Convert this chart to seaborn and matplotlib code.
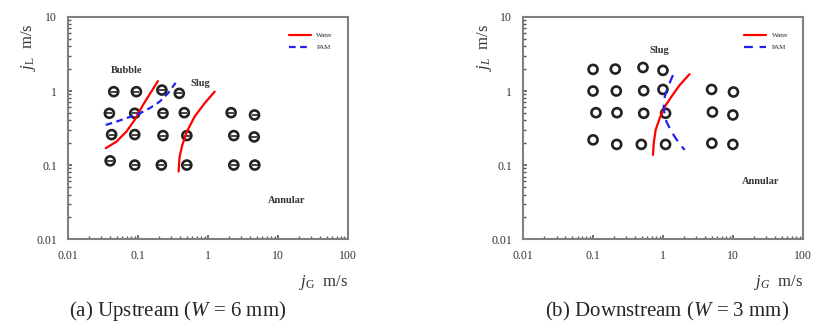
import numpy as np
import pandas as pd
import seaborn as sns
import matplotlib.pyplot as plt
from matplotlib.ticker import LogLocator, NullFormatter, FixedLocator, FixedFormatter

# ---- (a) upstream data ----
up_jg = [0.045, 0.095, 0.22, 0.39,
         0.039, 0.09, 0.228, 0.46, 2.15, 4.65,
         0.042, 0.09, 0.228, 0.50, 2.35, 4.6,
         0.040, 0.09, 0.216, 0.50, 2.35, 4.7]
up_jl = [0.98, 0.98, 1.03, 0.93,
         0.50, 0.50, 0.50, 0.51, 0.51, 0.475,
         0.258, 0.258, 0.25, 0.25, 0.25, 0.24,
         0.114, 0.10, 0.10, 0.10, 0.10, 0.10]

up_water1_x = [0.0346, 0.0491, 0.0683, 0.0897, 0.118, 0.155, 0.193]
up_water1_y = [0.169, 0.207, 0.283, 0.407, 0.648, 0.98, 1.36]
up_water2_x = [0.381, 0.394, 0.431, 0.501, 0.646, 0.897, 1.25]
up_water2_y = [0.0817, 0.130, 0.187, 0.283, 0.451, 0.682, 0.98]
up_pam_x = [0.0346, 0.0491, 0.072, 0.106, 0.147, 0.204, 0.268, 0.346]
up_pam_y = [0.348, 0.386, 0.437, 0.50, 0.585, 0.718, 0.93, 1.29]

# ---- (b) downstream data ----
dn_jg = [0.10, 0.208, 0.518, 1.0,
         0.10, 0.215, 0.53, 1.0, 4.96, 10.2,
         0.11, 0.22, 0.53, 1.09, 5.1, 10.0,
         0.10, 0.218, 0.49, 1.09, 5.0, 10.0]
dn_jl = [1.96, 1.98, 2.08, 1.90,
         1.0, 1.0, 1.01, 1.05, 1.05, 0.97,
         0.51, 0.51, 0.50, 0.50, 0.52, 0.475,
         0.219, 0.19, 0.19, 0.19, 0.197, 0.19]

dn_water_x = [0.72, 0.737, 0.786, 0.897, 1.06, 1.32, 1.73, 2.40]
dn_water_y = [0.137, 0.197, 0.298, 0.429, 0.614, 0.838, 1.2, 1.69]
dn_pam_x = [1.39, 1.18, 1.06, 1.02, 1.12, 1.32, 1.64, 2.04]
dn_pam_y = [1.64, 1.14, 0.838, 0.585, 0.386, 0.283, 0.207, 0.16]

sns.set_style('ticks')
plt.rcParams['font.family'] = ['Liberation Serif', 'DejaVu Serif']
plt.rcParams['mathtext.fontset'] = 'custom'
plt.rcParams['mathtext.rm'] = 'Liberation Serif'
plt.rcParams['mathtext.it'] = 'Liberation Serif:italic'

fig = plt.figure(figsize=(8.2, 3.33), dpi=100)
ax_a = fig.add_axes([0.083, 0.282, 0.341, 0.667])
ax_b = fig.add_axes([0.638, 0.282, 0.341, 0.667])

frame_col = '#808080'


def style_axes(ax, sub_l, sub_g):
    ax.set_xscale('log')
    ax.set_yscale('log')
    ax.set_xlim(0.01, 100)
    ax.set_ylim(0.01, 10)
    ax.xaxis.set_major_locator(FixedLocator([0.01, 0.1, 1, 10, 100]))
    ax.xaxis.set_major_formatter(FixedFormatter(['0.01', '0.1', '1', '10', '100']))
    ax.yaxis.set_major_locator(FixedLocator([0.01, 0.1, 1, 10]))
    ax.yaxis.set_major_formatter(FixedFormatter(['0.01', '0.1', '1', '10']))
    ax.xaxis.set_minor_locator(LogLocator(base=10, subs=np.arange(2, 10), numticks=20))
    ax.yaxis.set_minor_locator(LogLocator(base=10, subs=np.arange(2, 10), numticks=20))
    ax.xaxis.set_minor_formatter(NullFormatter())
    ax.yaxis.set_minor_formatter(NullFormatter())
    ax.tick_params(which='both', direction='in', colors='#555555', labelcolor='#333333',
                   labelsize=8.5, top=False, right=False)
    ax.tick_params(which='major', length=3, width=1.2, pad=8)
    ax.tick_params(which='minor', length=2, width=1.0)
    for sp in ax.spines.values():
        sp.set_visible(True)
        sp.set_color(frame_col)
        sp.set_linewidth(1.5)
    ax.set_xlabel('')
    ax.set_ylabel('')
    ax.text(-0.14, 0.97, r'$j_{%s}$  m/s' % sub_l, transform=ax.transAxes, rotation=90,
            ha='center', va='top', fontsize=12, color='#333333')
    ax.text(1.0, -0.195, r'$j_{%s}$  m/s' % sub_g, transform=ax.transAxes,
            ha='right', va='center', fontsize=12, color='#333333')


# ---- panel (a) ----
pts_a = pd.DataFrame({'jG': up_jg, 'jL': up_jl})
sns.scatterplot(data=pts_a, x='jG', y='jL', ax=ax_a, marker='o', s=42,
                facecolor='none', edgecolor='#222222', linewidth=1.9, legend=False)
sns.scatterplot(data=pts_a, x='jG', y='jL', ax=ax_a, marker='_', s=18,
                color='#222222', linewidth=1.2, legend=False)
sns.lineplot(x=up_water1_x, y=up_water1_y, ax=ax_a, sort=False, color='red',
             linewidth=1.6, label='Water')
sns.lineplot(x=up_water2_x, y=up_water2_y, ax=ax_a, sort=False, color='red',
             linewidth=1.6)
sns.lineplot(x=up_pam_x, y=up_pam_y, ax=ax_a, sort=False, color='#2222ee',
             linewidth=1.6, linestyle=(0, (3, 2)), label='PAM')
style_axes(ax_a, r'\mathrm{L}', r'\mathrm{G}')
ax_a.text(0.069, 1.9, 'Bubble', ha='center', va='center', fontsize=7.5,
          fontweight='bold', color='#333333')
ax_a.text(0.78, 1.25, 'Slug', ha='center', va='center', fontsize=7.5,
          fontweight='bold', color='#333333')
ax_a.text(13.5, 0.033, 'Annular', ha='center', va='center', fontsize=7.5,
          fontweight='bold', color='#333333')
ax_a.legend(loc='upper right', bbox_to_anchor=(0.97, 0.96), frameon=False,
            fontsize=5, handlelength=3.2, labelspacing=0.9)

# ---- panel (b) ----
pts_b = pd.DataFrame({'jG': dn_jg, 'jL': dn_jl})
sns.scatterplot(data=pts_b, x='jG', y='jL', ax=ax_b, marker='o', s=42,
                facecolor='none', edgecolor='#222222', linewidth=1.9, legend=False)
sns.lineplot(x=dn_water_x, y=dn_water_y, ax=ax_b, sort=False, color='red',
             linewidth=1.6, label='Water')
sns.lineplot(x=dn_pam_x, y=dn_pam_y, ax=ax_b, sort=False, color='#2222ee',
             linewidth=1.6, linestyle=(0, (4, 3)), label='PAM')
style_axes(ax_b, 'L', 'G')
ax_b.text(0.88, 3.5, 'Slug', ha='center', va='center', fontsize=7.5,
          fontweight='bold', color='#333333')
ax_b.text(25, 0.06, 'Annular', ha='center', va='center', fontsize=7.5,
          fontweight='bold', color='#333333')
ax_b.legend(loc='upper right', bbox_to_anchor=(0.97, 0.96), frameon=False,
            fontsize=5, handlelength=3.2, labelspacing=0.9)

# captions
fig.text(0.217, 0.03, r'(a) Upstream ($W$ = 6 mm)', ha='center', va='bottom', fontsize=15)
fig.text(0.813, 0.03, r'(b) Downstream ($W$ = 3 mm)', ha='center', va='bottom', fontsize=15)

fig.savefig('out.png', dpi=100)
